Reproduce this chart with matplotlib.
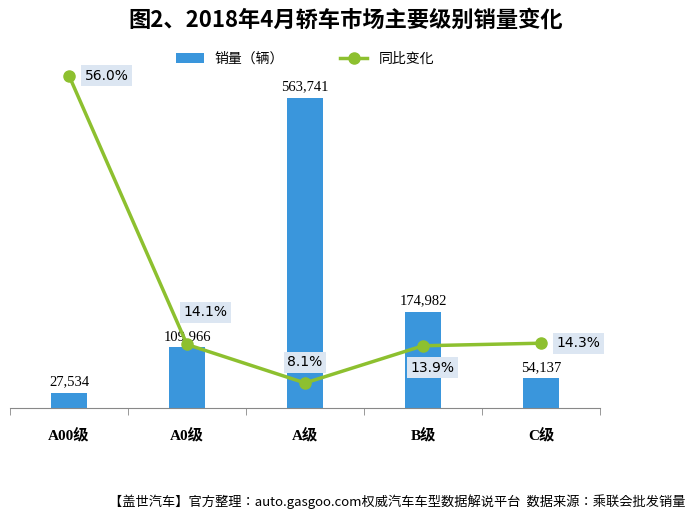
import matplotlib
matplotlib.use("Agg")
import matplotlib.pyplot as plt

categories = ["A00级", "A0级", "A级", "B级", "C级"]
sales = [27534, 109966, 563741, 174982, 54137]
yoy = [56.0, 14.1, 8.1, 13.9, 14.3]

CJK = ["Noto Sans CJK SC", "Noto Sans CJK JP", "Noto Sans CJK TC", "Noto Sans CJK KR", "DejaVu Sans"]
SERIF_CJK = ["Liberation Serif"] + CJK
BAR = "#3a96dc"
LINE = "#8dc02f"

fig = plt.figure(figsize=(6.92, 5.22), dpi=100)
ax = fig.add_axes([10 / 692, 114 / 522, 590 / 692, 358 / 522])
x = list(range(len(categories)))
ax.bar(x, sales, width=0.3, color=BAR, label="销量（辆）")
ax.set_xlim(-0.5, 4.5)
ax.set_ylim(0, 650000)
for s in ["top", "right", "left"]:
    ax.spines[s].set_visible(False)
ax.spines["bottom"].set_color("#888888")
ax.set_yticks([])
ax.set_xticks([i + 0.5 for i in range(-1, 5)], minor=True)
ax.tick_params(axis="x", which="minor", length=5, color="#888888")
ax.tick_params(axis="x", which="major", length=0, pad=14)
ax.set_xticks(x)
ax.set_xticklabels(categories, fontfamily=SERIF_CJK, fontweight="bold", fontsize=11)
for xi, v in zip(x, sales):
    ax.text(xi, v + 8000, f"{v:,}", ha="center", va="bottom",
            fontfamily="Liberation Serif", fontsize=10.5)

ax2 = ax.twinx()
ax2.set_ylim(4.2, 60)
ax2.axis("off")
ax2.plot(x, yoy, color=LINE, lw=2.5, marker="o", ms=8, label="同比变化")
offsets = [(0.32, 0), (0.16, 5.0), (0, 3.2), (0.08, -3.4), (0.32, 0)]
for xi, v, (dx, dy) in zip(x, yoy, offsets):
    ax2.text(xi + dx, v + dy, f"{v:.1f}%", ha="center", va="center", fontsize=10,
             bbox=dict(boxstyle="square,pad=0.25", fc="#dce6f2", ec="none"))

h1, l1 = ax.get_legend_handles_labels()
h2, l2 = ax2.get_legend_handles_labels()
ax.legend(h1 + h2, l1 + l2, loc="upper center", bbox_to_anchor=(0.5, 1.03), ncol=2,
          frameon=False, prop={"family": CJK, "size": 10}, columnspacing=4)

fig.text(0.5, 0.962, "图2、2018年4月轿车市场主要级别销量变化", ha="center", va="center",
         fontfamily=CJK, fontweight="bold", fontsize=16)
fig.text(0.99, 0.04, "【盖世汽车】官方整理：auto.gasgoo.com权威汽车车型数据解说平台  数据来源：乘联会批发销量",
         ha="right", va="center", fontfamily=CJK, fontstyle="italic", fontsize=9.5)
fig.savefig("out.png", dpi=100)
